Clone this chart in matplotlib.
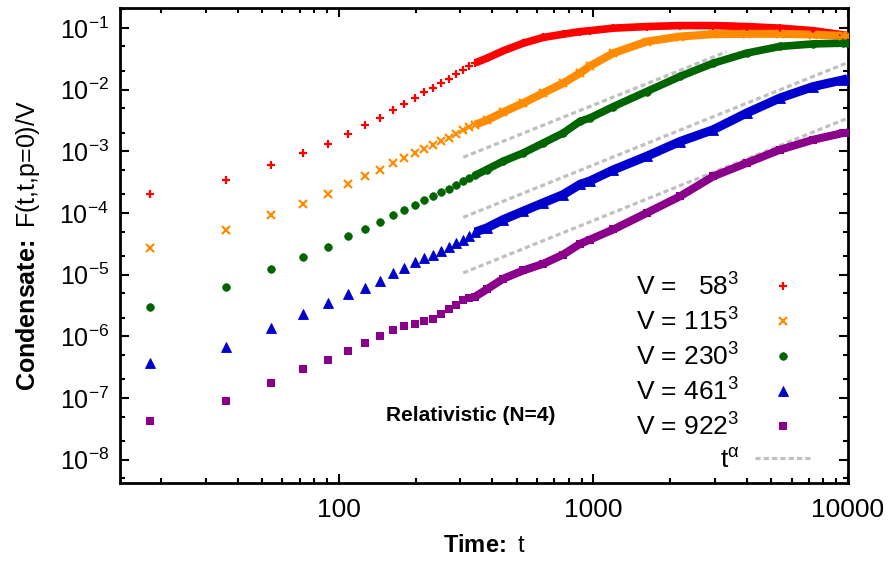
import matplotlib
matplotlib.use('Agg')
import matplotlib.pyplot as plt
from matplotlib.ticker import FixedLocator, FuncFormatter, NullFormatter, LogLocator, LogFormatterSciNotation

plt.rcParams['font.family'] = ['Liberation Sans', 'DejaVu Sans']
plt.rcParams['mathtext.fontset'] = 'custom'
plt.rcParams['mathtext.rm'] = 'Liberation Sans'
plt.rcParams['mathtext.it'] = 'Liberation Sans:italic'
plt.rcParams['mathtext.bf'] = 'Liberation Sans:bold'
plt.rcParams['axes.unicode_minus'] = False

# ---------------- data ----------------
t = [18.05, 36.1, 54.15, 72.2, 90.25, 108.3, 126.35, 144.4, 162.45, 180.5,
     198.55, 216.6, 234.65, 252.7, 270.75, 288.8, 306.85, 324.9, 342.95,
     380, 442, 530, 635, 761, 885, 968, 1197, 1618, 2188, 2958, 3999, 5405,
     7307, 9590, 9930]

v58 = [2.06e-4, 3.38e-4, 6.0e-4, 9.5e-4, 1.29e-3, 1.93e-3, 2.62e-3, 3.5e-3,
       4.71e-3, 5.9e-3, 7.3e-3, 8.98e-3, 1.07e-2, 1.256e-2, 1.496e-2, 1.8e-2,
       2.09e-2, 2.37e-2, 2.7e-2,
       3.2e-2, 4.25e-2, 5.65e-2, 7.0e-2, 7.9e-2, 8.7e-2, 9.0e-2, 9.9e-2,
       1.05e-1, 1.09e-1, 1.09e-1, 1.05e-1, 9.9e-2, 9.0e-2, 7.7e-2, 7.5e-2]

v115 = [2.72e-5, 5.3e-5, 9.3e-5, 1.40e-4, 2.01e-4, 2.96e-4, 4.03e-4, 5.04e-4,
        6.46e-4, 7.8e-4, 9.4e-4, 1.09e-3, 1.28e-3, 1.45e-3, 1.64e-3, 1.93e-3,
        2.2e-3, 2.45e-3, 2.7e-3,
        3.16e-3, 4.3e-3, 6.05e-3, 8.8e-3, 1.27e-2, 1.85e-2, 2.4e-2, 3.89e-2,
        6.0e-2, 7.24e-2, 7.9e-2, 8.0e-2, 8.0e-2, 7.8e-2, 7.4e-2, 7.3e-2]

v230 = [2.98e-6, 6.4e-6, 1.23e-5, 1.92e-5, 2.86e-5, 4.26e-5, 5.6e-5, 7.2e-5,
        9.2e-5, 1.11e-4, 1.35e-4, 1.65e-4, 1.91e-4, 2.16e-4, 2.45e-4, 2.88e-4,
        3.26e-4, 3.7e-4, 4.07e-4,
        5.04e-4, 6.9e-4, 9.4e-4, 1.36e-3, 1.98e-3, 3.05e-3, 3.46e-3, 5.3e-3,
        9.3e-3, 1.63e-2, 2.68e-2, 3.9e-2, 5.0e-2, 5.5e-2, 5.65e-2, 5.7e-2]

v461 = [3.66e-7, 6.7e-7, 1.36e-6, 2.3e-6, 3.5e-6, 4.84e-6, 6.1e-6, 7.9e-6,
        1.05e-5, 1.29e-5, 1.6e-5, 1.85e-5, 2.05e-5, 2.4e-5, 2.8e-5, 3.28e-5,
        3.7e-5, 4.3e-5, 4.9e-5,
        5.7e-5, 7.8e-5, 1.07e-4, 1.46e-4, 1.99e-4, 2.9e-4, 3.3e-4, 5.0e-4,
        8.3e-4, 1.44e-3, 2.24e-3, 4.17e-3, 7.3e-3, 1.12e-2, 1.44e-2, 1.5e-2]

v922 = [4.2e-8, 8.9e-8, 1.75e-7, 2.96e-7, 4.14e-7, 5.8e-7, 7.7e-7, 1.0e-6,
        1.26e-6, 1.47e-6, 1.56e-6, 1.8e-6, 1.93e-6, 2.27e-6, 2.8e-6, 3.2e-6,
        3.9e-6, 4.15e-6, 4.4e-6,
        5.75e-6, 8.6e-6, 1.17e-5, 1.5e-5, 2.12e-5, 3.15e-5, 3.7e-5, 5.4e-5,
        1.0e-4, 1.86e-4, 3.93e-4, 6.45e-4, 1.06e-3, 1.54e-3, 1.98e-3, 2.0e-3]

labels = ["V =   $\\mathregular{58^3}$", "V = $\\mathregular{115^3}$",
          "V = $\\mathregular{230^3}$", "V = $\\mathregular{461^3}$",
          "V = $\\mathregular{922^3}$"]

# power-law guide lines t^alpha: start / end points
pl_t0 = [308, 308, 308]
pl_t1 = [3330, 10000, 10000]
pl_y0 = [8.0e-4, 8.5e-5, 1.07e-5]
pl_y1 = [4.1e-2, 2.75e-2, 3.45e-3]

x_ticks = [100, 1000, 10000]

# ---------------- styling ----------------
series = [v58, v115, v230, v461, v922]
colors = ['#ff0000', '#ff8c00', '#006400', '#0000cc', '#8b008b']
markers = ['+', 'x', 'o', '^', 's']
msizes = [6.0, 5.5, 5.5, 7.2, 5.6]
mews = [1.6, 1.6, 0.5, 0.6, 0.0]
band_lw = [5.5, 5.8, 5.5, 6.5, 5.8]
dense_start = 18

fig = plt.figure(figsize=(8.9, 5.67), dpi=100)
ax = fig.add_axes([120/890, 1-483/567, 728/890, 475/567])
ax.set_xscale('log')
ax.set_yscale('log')

handles = []
for vals, c, m, ms, mew, blw, lab in zip(series, colors, markers, msizes, mews, band_lw, labels):
    ax.plot(t[dense_start:], vals[dense_start:], '-', color=c, lw=blw,
            solid_capstyle='butt', solid_joinstyle='round', zorder=2)
    h, = ax.plot(t, vals, linestyle='none', marker=m, ms=ms, color=c,
                 mec=c, mfc=c, mew=mew, label=lab, zorder=3)
    handles.append(h)

for i in range(len(pl_t0)):
    g, = ax.plot([pl_t0[i], pl_t1[i]], [pl_y0[i], pl_y1[i]], color='#c0c0c0',
                 lw=2.3, dashes=(1.6, 1.0), dash_capstyle='butt', zorder=1)
g.set_label("t$^{\\mathregular{\\alpha}}$")
handles.append(g)

ax.set_xlim(13.8, 10000)
ax.set_ylim(4.2e-9, 0.21)

ax.xaxis.set_major_locator(FixedLocator(x_ticks))
ax.xaxis.set_major_formatter(FuncFormatter(lambda v, p: f"{v:g}"))
ax.xaxis.set_minor_locator(LogLocator(base=10, subs=[2, 3, 4, 5, 6, 7, 8, 9], numticks=20))
ax.xaxis.set_minor_formatter(NullFormatter())
ax.yaxis.set_major_locator(LogLocator(base=10, numticks=20))
ax.yaxis.set_major_formatter(LogFormatterSciNotation())
ax.yaxis.set_minor_locator(LogLocator(base=10, subs=[2, 5], numticks=20))
ax.yaxis.set_minor_formatter(NullFormatter())

for s in ax.spines.values():
    s.set_linewidth(2.0)
ax.tick_params(which='both', direction='in', top=True, right=True, width=1.5)
ax.tick_params(which='major', length=6.5)
ax.tick_params(which='minor', length=3.5)
ax.tick_params(axis='x', labelsize=19, pad=11)
ax.tick_params(axis='y', labelsize=18, pad=8)

ax.set_xlabel("$\\mathbf{Time\\!:}$ t", fontsize=17)
ax.xaxis.set_label_coords(0.5, -0.11)
ax.set_ylabel("$\\mathbf{Condensate\\!:}$ F(t,t,p=0)/V", fontsize=18)
ax.yaxis.set_label_coords(-0.107, 0.5)

ax.text(0.482, 0.143, "Relativistic (N=4)", transform=ax.transAxes,
        ha='center', va='center', fontsize=15, fontweight='bold')

leg = ax.legend(handles=handles, loc='lower right', bbox_to_anchor=(0.949, 0.022),
                frameon=False, markerfirst=False, fontsize=19, handlelength=2.1,
                handletextpad=0.6, labelspacing=0.3, borderaxespad=0, borderpad=0,
                numpoints=1)

fig.savefig('out.png', dpi=100)
